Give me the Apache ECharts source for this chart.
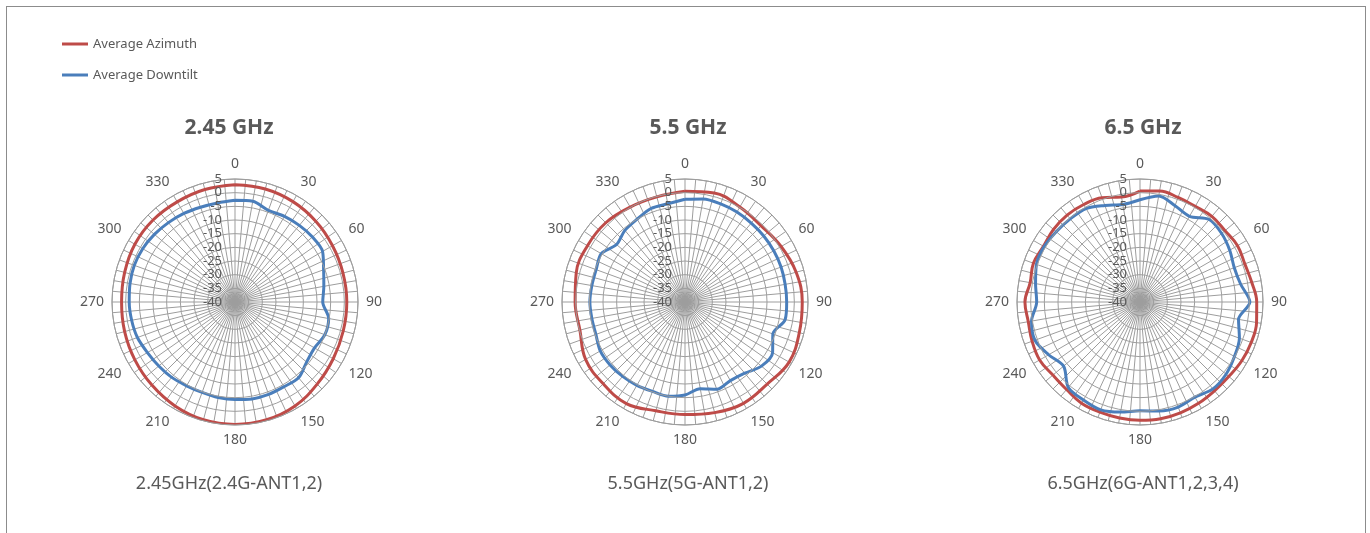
<!DOCTYPE html>
<html>
<head>
<meta charset="utf-8">
<title>Antenna patterns</title>
<script src="https://cdn.jsdelivr.net/npm/echarts@6/dist/echarts.min.js"></script>
<style>
  body { margin: 0; background: #fff; overflow: hidden; }
  #frame { position: absolute; left: 6px; top: 6px; width: 1360px; height: 600px; border: 1px solid #8c8c8c; box-sizing: border-box; }
  #chart { position: absolute; left: 0; top: 0; width: 1370px; height: 533px; }
</style>
</head>
<body>
<div id="frame"></div>
<div id="chart"></div>
<script>
// titles / captions
const titles = ['2.45 GHz', '5.5 GHz', '6.5 GHz']
const captions = ['2.45GHz(2.4G-ANT1,2)', '5.5GHz(5G-ANT1,2)', '6.5GHz(6G-ANT1,2,3,4)']
const seriesNames = ['Average Azimuth', 'Average Downtilt']

// radial scale (dB) and angle ticks
const radiusMin = -40
const radiusMax = 5
const radiusStep = 5
const angleStep = 5
const angleLabelStep = 30

// angles (deg) the values were read at
const angles10 = [0, 10, 20, 30, 40, 50, 60, 70, 80, 90, 100, 110, 120, 130, 140, 150, 160, 170,
  180, 190, 200, 210, 220, 230, 240, 250, 260, 270, 280, 290, 300, 310, 320, 330, 340, 350]
const angles15 = [0, 15, 30, 45, 60, 75, 90, 105, 120, 135, 150, 165,
  180, 195, 210, 225, 240, 255, 270, 285, 300, 315, 330, 345]

// 2.45 GHz
const az245 = [2.9, 2.8, 2.4, 1.8, 1.2, 0.9, 0.9, 1.0, 1.5, 2.5, 3.9, 4.6,
  4.8, 4.6, 3.9, 3.0, 2.3, 1.8, 1.5, 1.8, 2.3, 2.4, 2.3, 2.6]
const dt245 = [-2.8, -2.6, -4.3, -3.8, -3.4, -3.0, -3.0, -5.5, -7.0, -7.9, -5.2, -5.0, -6.4, -5.8, -3.8, -4.2, -4.0, -4.0,
  -4.3, -4.5, -4.8, -4.6, -4.0, -3.6, -3.0, -2.0, -1.6, -1.3, -1.0, -0.8, -1.0, -1.5, -2.1, -2.6, -3.1, -3.2]

// 5.5 GHz
const az55 = [0.5, 1.3, 0.1, -0.6, 0.6, 2.1, 2.9, 3.3, 4.0, 2.5, 2.8, 1.9,
  1.2, 1.2, 2.9, 2.3, 2.0, -0.2, 0.2, 1.2, 1.2, 1.0, 0.1, -0.2]
const dt55 = [-2.4, -1.7, -1.8, -2.0, -2.3, -2.4, -2.5, -2.6, -2.8, -2.8, -2.8, -5.8, -3.0, -3.5, -6.0, -6.8, -6.0, -7.8,
  -6.0, -5.0, -5.2, -4.8, -4.5, -4.2, -4.2, -5.3, -5.4, -5.2, -5.4, -5.4, -4.6, -7.3, -5.8, -5.0, -3.6, -3.5]

// 6.5 GHz
const az65 = [0.6, 1.2, 0.7, 0.4, 0.9, 0.6, 1.2, 0.8, 1.5, 2.7, 3.3, 3.3, 3.0, 2.4, 2.4, 2.8, 3.2, 3.4,
  3.3, 3.1, 2.9, 2.8, 1.8, 1.6, 2.4, 2.0, 1.5, 2.1, 0.8, 1.5, 0.8, 1.3, 1.5, 1.2, 0.6, -1.0]
const dt65 = [-2.6, -0.6, -2.5, -3.8, -0.6, -1.0, -2.1, -3.3, -2.6, 0.2, -3.4, -1.3, -0.1, 1.1, 1.5, 0.2, 0.9, 0.5,
  -0.2, 0.9, 2.0, 1.4, 0.8, -3.5, -1.4, 0.9, 0.3, -2.2, -1.2, 0.3, 0.5, 0.0, -0.3, -0.5, -2.4, -3.8]

const charts = [
  { az: az245, azAngles: angles15, dt: dt245, dtAngles: angles10 },
  { az: az55, azAngles: angles15, dt: dt55, dtAngles: angles10 },
  { az: az65, azAngles: angles10, dt: dt65, dtAngles: angles10 },
]

// layout
const centerX = [235, 685, 1140]
const labelX = [229, 688, 1143]
const centerY = 302
const plotRadius = 123
const colors = ['#be4b48', '#4a7ebb']
const textColor = '#595959'
const gridColor = '#9d9d9d'
const fontFamily = '"Noto Sans", "Open Sans", sans-serif'

// [value, angle] pairs, closed back to 360
function toPolar(values, angs) {
  const pts = values.map((v, i) => [v, angs[i]])
  pts.push([values[0], 360])
  return pts
}

const chart = echarts.init(document.getElementById('chart'))

const option = {
  animation: false,
  textStyle: { fontFamily },
  legend: {
    data: seriesNames,
    orient: 'vertical',
    left: 62,
    top: 37,
    padding: 0,
    itemWidth: 26,
    itemHeight: 3,
    itemGap: 17,
    icon: 'rect',
    textStyle: { color: textColor, fontSize: 13, lineHeight: 14, fontFamily },
  },
  title: [],
  polar: [],
  angleAxis: [],
  radiusAxis: [],
  series: [],
}

charts.forEach((c, i) => {
  option.title.push({
    text: titles[i],
    left: labelX[i],
    top: 118,
    padding: 0,
    textAlign: 'center',
    textStyle: { color: textColor, fontSize: 21, fontWeight: 'bold', fontFamily },
  })
  option.title.push({
    text: captions[i],
    left: labelX[i],
    top: 475,
    padding: 0,
    textAlign: 'center',
    textStyle: { color: textColor, fontSize: 18, fontWeight: 'normal', fontFamily },
  })
  option.polar.push({ center: [centerX[i], centerY], radius: plotRadius })
  option.angleAxis.push({
    polarIndex: i,
    type: 'value',
    min: 0,
    max: 360,
    interval: angleStep,
    startAngle: 90,
    clockwise: true,
    axisLine: { lineStyle: { color: gridColor, width: 1 } },
    axisTick: { show: false },
    axisLabel: {
      color: textColor,
      fontSize: 14,
      margin: 8,
      formatter: v => (v % angleLabelStep === 0 && v < 360 ? String(v) : ''),
    },
    splitLine: { lineStyle: { color: gridColor, width: 1 } },
  })
  option.radiusAxis.push({
    polarIndex: i,
    type: 'value',
    min: radiusMin,
    max: radiusMax,
    interval: radiusStep,
    axisLine: { show: false },
    axisTick: { show: false },
    axisLabel: { color: textColor, fontSize: 13, margin: 13 },
    splitLine: { lineStyle: { color: gridColor, width: 1 } },
    z: 5,
  })
  option.series.push({
    name: seriesNames[0],
    type: 'line',
    coordinateSystem: 'polar',
    polarIndex: i,
    data: toPolar(c.az, c.azAngles),
    smooth: 0.4,
    symbol: 'none',
    lineStyle: { color: colors[0], width: 3 },
    itemStyle: { color: colors[0] },
    z: 3,
  })
  option.series.push({
    name: seriesNames[1],
    type: 'line',
    coordinateSystem: 'polar',
    polarIndex: i,
    data: toPolar(c.dt, c.dtAngles),
    smooth: 0.3,
    symbol: 'none',
    lineStyle: { color: colors[1], width: 3 },
    itemStyle: { color: colors[1] },
    z: 4,
  })
})

chart.setOption(option)
</script>
</body>
</html>
